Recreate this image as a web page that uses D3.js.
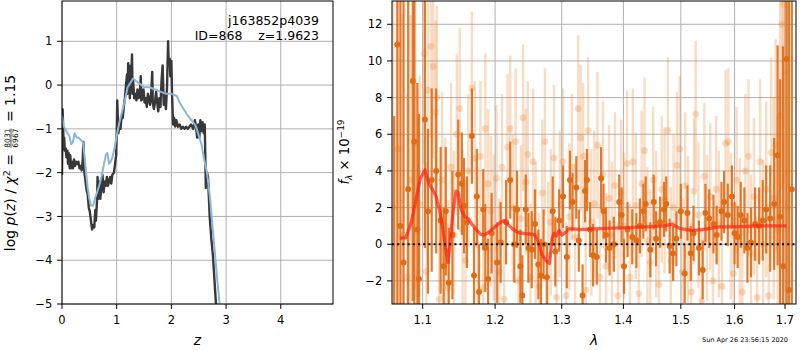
<!DOCTYPE html>
<html lang="en">
<head>
<meta charset="UTF-8"/>
<title>p(z) and spectrum</title>
<script src="https://d3js.org/d3.v7.min.js"></script>
<style>
  body { margin: 0; background: #fff; }
  svg { display: block; font-family: "DejaVu Sans", sans-serif; }
</style>
</head>
<body>
<script>

// ---- left panel: log p(z) ----
var zData = [0.00,0.01,0.02,0.03,0.04,0.05,0.07,0.08,0.10,0.11,0.12,0.14,0.15,0.17,0.18,0.20,0.22,0.24,0.26,0.28,
  0.30,0.32,0.34,0.36,0.38,0.39,0.41,0.43,0.45,0.47,0.49,0.51,0.53,0.55,0.57,0.59,0.61,0.62,0.64,0.65,
  0.66,0.68,0.70,0.72,0.74,0.76,0.78,0.80,0.82,0.84,0.86,0.88,0.90,0.92,0.95,0.97,0.99,1.00,1.01,1.03,
  1.05,1.07,1.09,1.11,1.13,1.15,1.17,1.19,1.20,1.21,1.22,1.23,1.24,1.25,1.27,1.28,1.29,1.30,1.32,1.34,
  1.36,1.38,1.40,1.42,1.44,1.45,1.47,1.49,1.51,1.53,1.55,1.57,1.59,1.61,1.63,1.65,1.66,1.68,1.70,1.72,
  1.74,1.76,1.78,1.80,1.82,1.84,1.86,1.88,1.90,1.92,1.94,1.95,1.97,1.98,2.00,2.01,2.03,2.05,2.07,2.09,
  2.12,2.15,2.18,2.21,2.24,2.27,2.30,2.33,2.36,2.40,2.43,2.45,2.47,2.49,2.51,2.53,2.55,2.57,2.59,2.61,
  2.63,2.65,2.67,2.70,2.73,2.76,2.79,2.82];
var logPz = [-2.05,-0.55,-0.9,-1.45,-1.2,-1.5,-1.45,-1.65,-1.5,-1.8,-1.55,-1.9,-1.6,-1.9,-1.75,-1.9,-1.7,-1.85,-1.75,-1.8,
  -1.75,-1.9,-1.85,-1.95,-1.7,-1.3,-2.0,-2.2,-2.4,-2.5,-2.8,-2.9,-3.1,-3.3,-3.2,-3.25,-2.85,-3.1,-2.65,-2.1,
  -2.6,-2.2,-2.6,-2.3,-2.05,-2.45,-2.2,-2.3,-2.1,-2.3,-2.2,-2.1,-2.25,-2.05,-2.0,-1.8,-1.6,-1.1,-0.35,-1.1,
  -0.95,-1.0,-0.7,-0.75,-0.5,-0.3,0.0,0.25,-0.2,0.5,0.1,0.45,-0.3,0.0,0.3,0.7,-0.2,0.1,-0.3,-0.2,
  -0.35,-0.1,-0.3,-0.25,0.2,-0.35,-0.3,-0.1,-0.4,-0.3,-0.5,-0.2,-0.3,-0.45,-0.2,0.3,-0.4,-0.55,-0.4,-0.15,
  -0.4,-0.6,-0.3,-0.5,0.1,0.45,-0.45,-0.2,-0.55,-0.05,1.0,0.55,0.6,0.2,0.55,-0.1,-0.9,-0.75,-0.95,-0.8,
  -0.95,-0.9,-1.0,-0.95,-1.0,-0.95,-1.0,-0.95,-0.9,-1.0,-0.8,-0.95,-1.2,-0.9,-1.2,-0.8,-1.05,-0.85,-1.1,-0.9,
  -2.35,-2.0,-2.1,-3.0,-3.5,-3.9,-4.5,-5.1];

var zModel = [0.00,0.03,0.06,0.10,0.13,0.17,0.20,0.23,0.27,0.30,0.34,0.38,0.41,0.44,0.47,0.50,0.53,0.57,0.60,0.64,
  0.68,0.72,0.76,0.80,0.83,0.86,0.89,0.92,0.96,1.00,1.05,1.10,1.15,1.20,1.25,1.30,1.35,1.40,1.45,1.50,
  1.60,1.70,1.80,1.90,2.00,2.10,2.15,2.20,2.30,2.40,2.45,2.50,2.55,2.60,2.65,2.70,2.75,2.80,2.85,2.89];
var logPzModel = [-0.7,-0.95,-1.0,-1.1,-1.15,-1.35,-1.3,-1.1,-1.2,-1.2,-1.25,-1.3,-1.6,-2.0,-2.35,-2.6,-2.75,-2.75,-2.6,-2.45,
  -2.3,-2.1,-1.85,-1.6,-1.55,-1.8,-1.75,-1.65,-1.45,-1.15,-0.85,-0.6,-0.35,-0.05,0.05,0.15,0.1,0.05,0.0,-0.05,
  -0.05,-0.1,-0.15,-0.2,-0.2,-0.25,-0.4,-0.5,-0.7,-0.85,-0.95,-1.15,-1.35,-1.7,-2.0,-2.5,-3.2,-3.9,-4.6,-5.1];

var zTicks = [0, 1, 2, 3, 4];
var pzTicks = [-5, -4, -3, -2, -1, 0, 1];

// ---- right panel: spectrum ----
var lamDark = [1.063,1.067,1.071,1.075,1.081,1.087,1.089,1.093,1.095,1.103,1.107,1.112,1.118,1.124,1.128,1.131,1.135,1.140,1.148,1.153,
  1.156,1.160,1.167,1.170,1.174,1.177,1.183,1.186,1.190,1.195,1.203,1.208,1.216,1.222,1.228,1.232,1.237,1.240,1.245,1.249,
  1.254,1.259,1.264,1.268,1.272,1.277,1.286,1.290,1.296,1.302,1.308,1.313,1.317,1.323,1.327,1.333,1.337,1.340,1.345,1.350,
  1.356,1.363,1.367,1.371,1.377,1.384,1.393,1.397,1.401,1.407,1.415,1.422,1.428,1.434,1.438,1.446,1.452,1.456,1.463,1.470,
  1.474,1.480,1.486,1.492,1.500,1.507,1.512,1.518,1.523,1.533,1.540,1.545,1.552,1.560,1.566,1.575,1.580,1.587,1.595,1.600,
  1.606,1.612,1.619,1.625,1.632,1.640,1.648,1.655,1.662,1.670,1.678,1.685,1.690,1.696,1.703,1.708,1.714];
var fluxDark = [-5.0,10.9,1.0,-1.0,3.0,8.9,5.6,0.8,-1.9,6.8,1.8,3.5,4.0,1.3,-1.2,1.8,-2.1,0.5,3.8,3.3,
  2.1,1.2,5.9,-1.7,2.6,-2.6,1.9,-0.2,-1.9,0.6,-1.0,0.1,1.2,3.5,0.0,1.9,-1.2,-2.8,1.9,-0.2,
  -0.3,1.1,-1.1,-1.7,0.0,-1.8,1.8,-0.4,1.3,2.6,-0.7,3.5,2.3,3.1,0.2,-2.8,2.9,3.5,0.8,-0.6,
  -0.7,3.6,1.8,0.5,-0.2,0.0,2.3,1.6,-1.2,0.8,0.4,0.2,1.0,1.8,2.2,-0.3,2.3,0.3,1.2,1.9,
  2.2,-0.1,-0.5,0.3,1.8,-1.6,1.7,-0.5,0.6,-0.2,-1.4,1.7,1.4,1.1,0.5,1.8,2.3,1.6,2.6,0.6,
  0.4,1.6,1.3,-0.2,0.1,1.1,1.0,1.3,1.9,1.4,2.2,4.85,1.5,-1.2,10.1,-2.5,3.0];
var errDark = [12,16,20,20,18,12,10,8,9,7,4.5,5,4.5,4,3.2,3.5,3,3.5,3,2.8,
  2.6,2.5,2.6,2.6,2.6,2.6,2.2,2.4,2.2,2.2,2.2,2.2,2.3,2.1,2.1,2.1,2,2.2,1.9,1.9,
  2.1,1.9,1.9,2,1.9,1.9,1.9,1.9,1.7,1.7,1.7,1.6,1.6,1.7,1.7,1.7,1.7,1.7,1.5,1.7,
  1.5,1.7,1.5,1.5,1.5,1.5,1.5,1.5,1.5,1.5,1.5,1.5,1.5,1.5,1.5,1.5,1.5,1.5,1.4,1.5,
  1.5,1.5,1.5,1.5,1.5,1.6,1.5,1.5,1.5,1.5,1.6,1.6,1.6,1.6,1.6,1.6,1.7,1.7,1.7,1.7,
  1.7,1.8,1.8,1.9,1.9,2,2.1,2.2,2.4,2.9,3.6,6,7.5,12,15,18,20];

var lamLight = [1.062,1.068,1.074,1.080,1.084,1.090,1.096,1.102,1.105,1.107,1.111,1.114,1.117,1.119,1.122,1.126,1.130,1.134,1.138,1.142,
  1.146,1.150,1.154,1.158,1.162,1.167,1.171,1.175,1.179,1.183,1.186,1.190,1.194,1.198,1.202,1.206,1.210,1.213,1.218,1.222,
  1.226,1.230,1.234,1.238,1.241,1.245,1.248,1.252,1.256,1.260,1.265,1.270,1.274,1.279,1.283,1.288,1.292,1.297,1.302,1.307,
  1.312,1.316,1.321,1.326,1.330,1.334,1.338,1.342,1.347,1.352,1.357,1.361,1.366,1.371,1.376,1.381,1.386,1.391,1.396,1.401,
  1.406,1.411,1.416,1.421,1.426,1.431,1.436,1.441,1.446,1.451,1.456,1.461,1.466,1.471,1.477,1.482,1.487,1.493,1.498,1.503,
  1.508,1.513,1.519,1.524,1.527,1.532,1.538,1.543,1.548,1.554,1.559,1.565,1.570,1.576,1.583,1.588,1.593,1.598,1.604,1.610,
  1.615,1.621,1.627,1.632,1.638,1.644,1.650,1.656,1.662,1.667,1.672,1.677,1.681,1.685,1.690,1.694,1.697,1.700,1.705];
var fluxLight = [2.0,5.2,0.5,-1.8,3.5,5.5,2.2,10.4,-1.5,8.4,10.8,9.7,7.2,8.0,-3.0,3.5,1.0,-2.4,4.2,0.5,
  6.0,7.4,0.8,-0.9,4.0,8.5,4.7,0.0,4.8,-2.4,6.3,3.3,1.8,0.9,3.6,-1.5,4.2,-3.0,5.3,6.3,
  2.0,5.6,-2.0,1.4,6.9,3.4,4.9,-1.8,4.5,0.5,-2.3,2.8,5.6,-0.6,1.2,4.7,-2.9,2.2,4.5,-2.8,
  1.5,4.2,0.4,7.4,5.8,4.8,-2.5,6.2,1.2,2.2,5.4,-1.8,3.8,-1.2,2.5,0.5,3.2,-2.8,2.8,1.0,
  4.4,-1.8,4.5,2.1,-2.7,3.3,5.1,0.2,-1.0,3.5,1.1,-2.2,3.0,2.4,6.2,-0.9,2.0,4.3,5.2,-1.5,
  3.2,0.8,-2.6,2.9,7.1,1.6,-3.1,3.7,0.9,2.6,-2.0,3.0,1.1,-2.3,5.5,5.6,1.0,-1.6,3.5,0.6,
  -2.6,4.0,4.8,-0.5,2.6,-2.9,4.5,0.0,3.0,-2.8,5.0,2.5,5.4,0.8,7.0,12.0,13.1,9.4,2.0];
var errLight = [14,13,12,10,9,8,7,6,6,5.5,5,5,5,5,4.8,4.8,4.8,4.8,4.6,4.6,
  4.4,4.4,4.4,4.4,4.2,4.2,4.2,4.2,4.1,4.1,4.1,4.1,4.1,4,4,4,4,4,4,4,
  4,4,4,4,4,4,4,4,4,4,4,4,4,4,4,4,4,4,4,4,
  4,4,4,4,4,4,4,4,4,4,4,4,4,4,4,4,4,4,4,4,
  4,4,4,4,4,4,4,4,4,4,4,4,4,4,4,4,4,4,4,4,
  4,4,4,4,4,4,4,4,4,4,4,4,4,4,4,4,4,4,4,4.1,
  4.1,4.2,4.2,4.3,4.3,4.4,4.5,4.6,4.8,5,5.2,5.5,5.8,6.2,7,9,10,12,14];

var lamModel = [1.070,1.078,1.085,1.092,1.097,1.103,1.108,1.113,1.118,1.123,1.127,1.131,1.134,1.137,1.141,1.145,1.148,1.152,1.157,1.162,
  1.167,1.173,1.179,1.185,1.192,1.200,1.208,1.213,1.218,1.225,1.233,1.243,1.253,1.259,1.264,1.270,1.276,1.281,1.285,1.288,
  1.292,1.296,1.300,1.306,1.312,1.330,1.360,1.400,1.440,1.470,1.485,1.492,1.500,1.520,1.540,1.570,1.600,1.650,1.703];
var fluxModel = [0.33,0.35,1.2,2.6,3.6,4.05,3.3,3.0,2.6,1.8,0.8,-0.3,-1.0,0.2,1.8,2.9,2.8,1.9,1.5,1.4,
  1.1,0.8,0.55,0.5,0.7,0.95,1.2,1.3,1.1,0.85,0.65,0.58,0.55,0.5,0.1,-0.6,-0.9,-1.05,0.3,0.6,
  0.45,0.75,0.5,0.65,0.85,0.8,0.85,0.9,0.95,1.0,1.1,0.95,0.85,0.75,0.8,0.95,0.95,1.0,1.0];

var lamTicks = [1.1, 1.2, 1.3, 1.4, 1.5, 1.6, 1.7];
var fluxTicks = [-2, 0, 2, 4, 6, 8, 10, 12];

var W = 800, H = 350;
var FS = 11.5;    // tick labels
var FL = 13.9;    // axis labels

var svg = d3.select("body").append("svg")
  .attr("width", W)
  .attr("height", H);

var yTop = 1, yBot = 304;
var L = {x0: 62, x1: 333};
var R = {x0: 392, x1: 796};

var xz = d3.scaleLinear().domain([0, 4.955]).range([L.x0, L.x1]);
var yz = d3.scaleLinear().domain([-5, 1.92]).range([yBot, yTop]);
var xl = d3.scaleLog().domain([1.0602, 1.7226]).range([R.x0, R.x1]);
var yl = d3.scaleLinear().domain([-3.26, 13.27]).range([yBot, yTop]);

var defs = svg.append("defs");
defs.append("clipPath").attr("id", "clipL").append("rect")
  .attr("x", L.x0).attr("y", yTop).attr("width", L.x1 - L.x0).attr("height", yBot - yTop);
defs.append("clipPath").attr("id", "clipR").append("rect")
  .attr("x", R.x0).attr("y", yTop).attr("width", R.x1 - R.x0).attr("height", yBot - yTop);

function fmt(v, dec) {
  var s = dec ? v.toFixed(dec) : String(v);
  return s.replace("-", "\u2212");
}

// grid lines for one panel
function grid(box, xs, ys, xt, yt) {
  var g = svg.append("g");
  g.selectAll(".gx").data(xt).enter().append("line")
    .attr("x1", function(d) { return xs(d); }).attr("x2", function(d) { return xs(d); })
    .attr("y1", yTop).attr("y2", yBot)
    .attr("stroke", "#b0b0b0").attr("stroke-width", 1);
  g.selectAll(".gy").data(yt).enter().append("line")
    .attr("y1", function(d) { return ys(d); }).attr("y2", function(d) { return ys(d); })
    .attr("x1", box.x0).attr("x2", box.x1)
    .attr("stroke", "#b0b0b0").attr("stroke-width", 1);
}

// spines, ticks, tick labels
function axesDecor(box, xs, ys, xt, yt, xdec) {
  var g = svg.append("g");
  g.append("rect").attr("x", box.x0).attr("y", yTop)
    .attr("width", box.x1 - box.x0).attr("height", yBot - yTop)
    .attr("fill", "none").attr("stroke", "#000").attr("stroke-width", 1);
  g.selectAll(".tx").data(xt).enter().append("line")
    .attr("x1", function(d) { return xs(d); }).attr("x2", function(d) { return xs(d); })
    .attr("y1", yBot).attr("y2", yBot + 4.9)
    .attr("stroke", "#000").attr("stroke-width", 1);
  g.selectAll(".lx").data(xt).enter().append("text")
    .attr("x", function(d) { return xs(d); })
    .attr("y", yBot + 20)
    .attr("text-anchor", "middle")
    .attr("font-size", FS)
    .text(function(d) { return fmt(d, xdec); });
  g.selectAll(".ty").data(yt).enter().append("line")
    .attr("y1", function(d) { return ys(d); }).attr("y2", function(d) { return ys(d); })
    .attr("x1", box.x0 - 4.9).attr("x2", box.x0)
    .attr("stroke", "#000").attr("stroke-width", 1);
  g.selectAll(".ly").data(yt).enter().append("text")
    .attr("x", box.x0 - 9.7)
    .attr("y", function(d) { return ys(d); })
    .attr("dy", "0.36em")
    .attr("text-anchor", "end")
    .attr("font-size", FS)
    .text(function(d) { return fmt(d, 0); });
}

// ---- left panel ----
grid(L, xz, yz, zTicks, pzTicks);
var gL = svg.append("g").attr("clip-path", "url(#clipL)");
var lineZ = d3.line()
  .x(function(d) { return xz(d[0]); })
  .y(function(d) { return yz(d[1]); });
gL.append("path")
  .datum(d3.zip(zData, logPz))
  .attr("d", lineZ)
  .attr("fill", "none")
  .attr("stroke", "#383838")
  .attr("stroke-width", 2.4)
  .attr("stroke-linejoin", "round");
gL.append("path")
  .datum(d3.zip(zModel, logPzModel))
  .attr("d", lineZ)
  .attr("fill", "none")
  .attr("stroke", "#8cb6d8")
  .attr("stroke-width", 2)
  .attr("stroke-linejoin", "round");
axesDecor(L, xz, yz, zTicks, pzTicks, 0);

svg.append("text").attr("x", 319).attr("y", 25)
  .attr("text-anchor", "end").attr("font-size", 12.5)
  .text("j163852p4039");
svg.append("text").attr("x", 319).attr("y", 39.5)
  .attr("text-anchor", "end").attr("font-size", 12.5)
  .attr("xml:space", "preserve").style("white-space", "pre")
  .text("ID=868    z=1.9623");

// ---- right panel ----
grid(R, xl, yl, lamTicks, fluxTicks);
var gR = svg.append("g").attr("clip-path", "url(#clipR)");
var ORANGE = "#e06c16";

var light = d3.zip(lamLight, fluxLight, errLight);
gR.selectAll(".eb2").data(light).enter().append("line")
  .attr("x1", function(d) { return xl(d[0]); }).attr("x2", function(d) { return xl(d[0]); })
  .attr("y1", function(d) { return yl(d[1] - d[2]); })
  .attr("y2", function(d) { return yl(d[1] + d[2]); })
  .attr("stroke", "#ec8a3c").attr("stroke-opacity", 0.3).attr("stroke-width", 2.4);
gR.selectAll(".pt2").data(light).enter().append("circle")
  .attr("cx", function(d) { return xl(d[0]); })
  .attr("cy", function(d) { return yl(d[1]); })
  .attr("r", 3.4)
  .attr("fill", "#ec8a3c").attr("fill-opacity", 0.3);

var dark = d3.zip(lamDark, fluxDark, errDark);
gR.selectAll(".eb1").data(dark).enter().append("line")
  .attr("x1", function(d) { return xl(d[0]); }).attr("x2", function(d) { return xl(d[0]); })
  .attr("y1", function(d) { return yl(d[1] - d[2]); })
  .attr("y2", function(d) { return yl(d[1] + d[2]); })
  .attr("stroke", ORANGE).attr("stroke-opacity", 0.9).attr("stroke-width", 2.2);
gR.selectAll(".pt1").data(dark).enter().append("circle")
  .attr("cx", function(d) { return xl(d[0]); })
  .attr("cy", function(d) { return yl(d[1]); })
  .attr("r", 3)
  .attr("fill", ORANGE);

gR.append("path")
  .datum(d3.zip(lamModel, fluxModel))
  .attr("d", d3.line()
    .x(function(d) { return xl(d[0]); })
    .y(function(d) { return yl(d[1]); }))
  .attr("fill", "none")
  .attr("stroke", "#ff2010")
  .attr("stroke-opacity", 0.7)
  .attr("stroke-width", 3.2)
  .attr("stroke-linejoin", "round");

gR.append("line")
  .attr("x1", R.x0).attr("x2", R.x1)
  .attr("y1", yl(0)).attr("y2", yl(0))
  .attr("stroke", "#000").attr("stroke-width", 2)
  .attr("stroke-dasharray", "2,3.2");

axesDecor(R, xl, yl, lamTicks, fluxTicks, 1);

// ---- axis labels ----
svg.append("text").attr("x", (L.x0 + L.x1) / 2).attr("y", 345)
  .attr("text-anchor", "middle").attr("font-size", FL).attr("font-style", "italic")
  .text("z");
svg.append("text").attr("x", (R.x0 + R.x1) / 2).attr("y", 345)
  .attr("text-anchor", "middle").attr("font-size", FL).attr("font-style", "italic")
  .text("\u03bb");

// rich rotated label built from pieces
function rotLabel(bx, cy, fs, parts) {
  var g = svg.append("g");
  var cx = 0;
  parts.forEach(function(p) {
    if (p.frac) {
      cx += 2;
      var n = g.append("text").attr("x", cx).attr("y", -5.5).attr("font-size", p.size).text(p.frac[0]);
      var d = g.append("text").attr("x", cx).attr("y", 2.6).attr("font-size", p.size).text(p.frac[1]);
      var w = Math.max(n.node().getComputedTextLength(), d.node().getComputedTextLength());
      g.append("line").attr("x1", cx).attr("x2", cx + w).attr("y1", -4).attr("y2", -4)
        .attr("stroke", "#000").attr("stroke-width", 0.7);
      cx += w + 2;
      return;
    }
    var t = g.append("text").attr("x", cx).attr("y", p.dy || 0)
      .attr("font-size", p.size || fs)
      .attr("font-style", p.it ? "italic" : "normal")
      .attr("xml:space", "preserve").style("white-space", "pre")
      .text(p.t);
    cx += t.node().getComputedTextLength();
  });
  g.attr("transform", "translate(" + bx + "," + (cy + cx / 2) + ") rotate(-90)");
}

rotLabel(15, 163, 14, [
  {t: "log "}, {t: "p", it: true}, {t: "("}, {t: "z", it: true}, {t: ") / "},
  {t: "\u03c7", it: true}, {t: "2", size: 9.5, dy: -5.5}, {t: " = "},
  {frac: ["8031", "6967"], size: 7.5}, {t: " = 1.15"}
]);
rotLabel(349, 152, 13.2, [
  {t: "f", it: true}, {t: "\u03bb", it: true, size: 9, dy: 3}, {t: " \u00d7 10"},
  {t: "\u221219", size: 9, dy: -5.5}
]);

svg.append("text").attr("x", 788).attr("y", 342)
  .attr("text-anchor", "end").attr("font-size", 6.5)
  .text("Sun Apr 26 23:56:15 2020");

</script>
</body>
</html>
